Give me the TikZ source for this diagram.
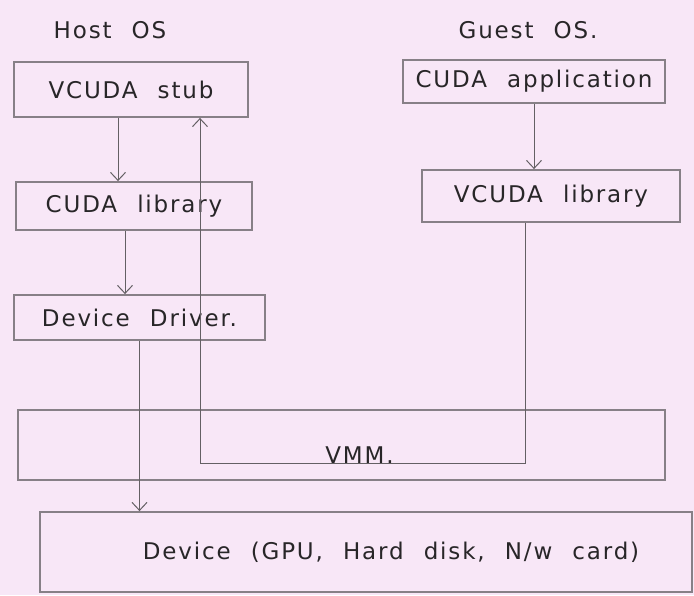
\documentclass[tikz,border=0pt]{standalone}
\usepackage{fontspec}
\setmainfont{DejaVu Sans}[LetterSpace=8,WordSpace=2.2]
\usetikzlibrary{arrows.meta}
\definecolor{paper}{RGB}{248,231,247}
\definecolor{boxline}{RGB}{135,128,135}
\definecolor{wire}{RGB}{100,96,100}
\definecolor{ink}{RGB}{40,38,40}
\begin{document}
\begin{tikzpicture}[x=1pt,y=-1pt,
  hand/.style={text=ink,font=\fontsize{23}{27}\selectfont},
  box/.style={hand,draw=boxline,line width=1.8pt,inner sep=0pt},
  wire/.style={draw=wire,line width=1pt,-{Straight Barb[length=8pt,width=15pt,line width=1pt]}}]
\path[fill=paper] (0,0) rectangle (694,595);
\node[hand] (host) at (110,30) {Host OS};
\node[hand] (guest) at (528,30) {Guest OS.};
\node[box,minimum width=234pt,minimum height=55pt] (stub) at (131,89.5) {VCUDA stub};
\node[box,minimum width=236pt,minimum height=48pt] (cudalib) at (134,206) {CUDA library};
\node[box,minimum width=251pt,minimum height=45pt] (driver) at (139.5,317.5) {Device Driver.};
\node[box,minimum width=262pt,minimum height=43pt] (app) at (534,81.5) {CUDA application};
\node[box,minimum width=258pt,minimum height=52pt] (vlib) at (551,196) {VCUDA library};
\node[box,minimum width=647pt,minimum height=70pt,text height=37pt,text depth=0pt] (vmm) at (341.5,445) {\hspace*{36pt}VMM.};
\node[box,minimum width=652pt,minimum height=80pt] (device) at (366,552) {\hspace*{50pt}Device (GPU, Hard disk, N/w card)};
\draw[wire] ([xshift=-13pt]stub.south) -- ([xshift=-13pt]stub.south |- cudalib.north);
\draw[wire] ([xshift=-9pt]cudalib.south) -- ([xshift=-9pt]cudalib.south |- driver.north);
\draw[wire] (driver.south) -- (driver.south |- device.north);
\draw[wire] (app.south) -- (app.south |- vlib.north);
\coordinate (turn) at (525,463);
\draw[wire] ([xshift=-26pt]vlib.south) -- (turn) -| ([xshift=69pt]stub.south);
\end{tikzpicture}
\end{document}
